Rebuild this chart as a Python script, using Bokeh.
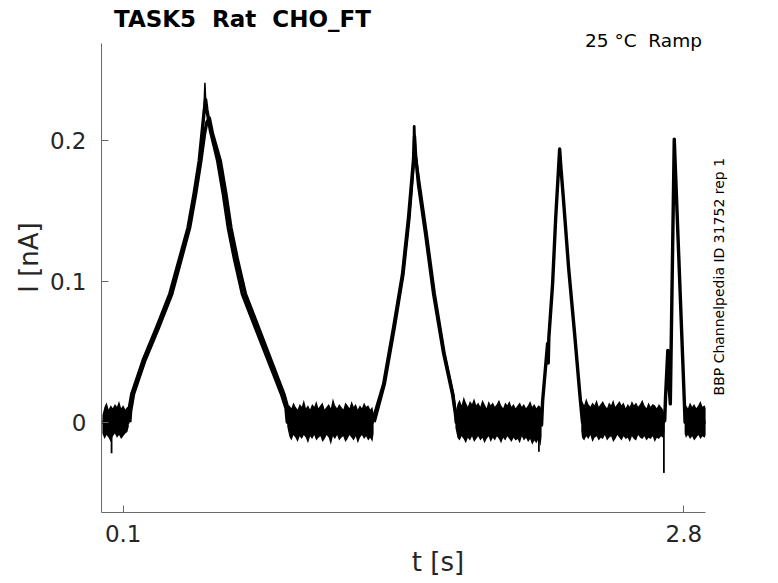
from math import pi
from bokeh.plotting import figure
from bokeh.models import Range1d, FixedTicker, Label
from bokeh.embed import file_html
from bokeh.resources import INLINE

# ---------------- data ----------------
# axis extents (s, nA) and the drawing area around them
X_AXIS = (-0.0045, 2.9045)
Y_AXIS = (-0.0641, 0.2688)
X_VIEW_END = 3.2368
Y_VIEW_END = 0.2980

x_ticks = [0.1, 2.8]
x_tick_labels = ["0.1", "2.8"]
y_ticks = [0.0, 0.1, 0.2]
y_tick_labels = ["0", "0.1", "0.2"]

title_text = "TASK5  Rat  CHO_FT"
condition_text = "25 °C  Ramp"
source_text = "BBP Channelpedia ID 31752 rep 1"
x_label = "t [s]"
y_label = "I [nA]"

# main sweep (time in s, current in nA)
sweep_a_t = [0.000, 0.124, 0.127, 0.141, 0.196, 0.260, 0.324, 0.369, 0.412, 0.441,
             0.466, 0.482, 0.490, 0.497, 0.503, 0.520, 0.555, 0.582, 0.606, 0.637,
             0.674, 0.737, 0.798, 0.862, 0.884, 0.890, 1.300, 1.306, 1.354, 1.402,
             1.445, 1.474, 1.498, 1.503, 1.508, 1.522, 1.556, 1.595, 1.643, 1.686,
             1.700, 1.704, 2.110, 2.115, 2.120, 2.144, 2.147, 2.150, 2.168, 2.183,
             2.197, 2.202, 2.207, 2.221, 2.245, 2.274, 2.298, 2.308, 2.312, 2.700,
             2.708, 2.712, 2.723, 2.727, 2.735, 2.754, 2.803, 2.806, 2.905]
sweep_a_i = [0.000, 0.000, 0.008, 0.020, 0.044, 0.067, 0.091, 0.115, 0.138, 0.162,
             0.1855, 0.209, 0.221, 0.229, 0.222, 0.207, 0.1855, 0.162, 0.138, 0.115,
             0.091, 0.067, 0.044, 0.020, 0.010, 0.000, 0.000, 0.003, 0.027, 0.067,
             0.105, 0.145, 0.186, 0.203, 0.190, 0.169, 0.134, 0.091, 0.049, 0.020,
             0.006, 0.000, 0.000, -0.002, 0.015, 0.056, 0.042, 0.060, 0.098, 0.145,
             0.181, 0.194, 0.183, 0.157, 0.110, 0.063, 0.022, 0.006, 0.000, 0.000,
             0.001, 0.018, 0.051, 0.030, 0.013, 0.201, 0.013, 0.000, 0.000]

# later sweeps on ramp 1
sweep_b1_t = [0.132, 0.136, 0.150, 0.205, 0.270, 0.334, 0.378, 0.420, 0.449, 0.474,
              0.492, 0.503, 0.515, 0.530, 0.568, 0.595, 0.619, 0.651, 0.689, 0.752,
              0.812, 0.874, 0.893, 0.898]
sweep_b1_i = [0.000, 0.008, 0.020, 0.044, 0.067, 0.091, 0.115, 0.138, 0.162, 0.1855,
              0.205, 0.213, 0.216, 0.205, 0.1855, 0.162, 0.138, 0.115, 0.091, 0.067,
              0.044, 0.020, 0.010, 0.000]
# later sweep on ramp 2
sweep_b2_t = [1.310, 1.359, 1.407, 1.449, 1.478, 1.500, 1.5015, 1.505, 1.527, 1.561,
              1.600, 1.647, 1.689, 1.703]
sweep_b2_i = [0.000, 0.027, 0.067, 0.105, 0.145, 0.186, 0.210, 0.192, 0.169, 0.134,
              0.091, 0.049, 0.020, 0.004]
# highest trace at the first peak
peak_c_t = [0.486, 0.4935, 0.500]
peak_c_i = [0.212, 0.241, 0.220]

# single downward spikes
spike_t = [0.044, 2.102, 2.704]
spike_i = [-0.022, -0.021, -0.036]

# baseline noise envelopes (upper / lower) of all sweeps
noise_t1 = [0.000, 0.010, 0.020, 0.030, 0.040, 0.050, 0.060, 0.070, 0.080, 0.090,
            0.100, 0.110, 0.120, 0.127]
noise_up1 = [0.005, 0.011, 0.014, 0.009, 0.012, 0.010, 0.013, 0.011, 0.015, 0.010,
             0.012, 0.009, 0.011, 0.010]
noise_lo1 = [-0.008, -0.012, -0.009, -0.011, -0.014, -0.010, -0.008, -0.011, -0.009, -0.012,
             -0.010, -0.008, -0.007, -0.003]

noise_t2 = [0.89, 0.90, 0.91, 0.92, 0.93, 0.94, 0.95, 0.96, 0.97, 0.98,
            0.99, 1.00, 1.01, 1.02, 1.03, 1.04, 1.05, 1.06, 1.07, 1.08,
            1.09, 1.10, 1.11, 1.12, 1.13, 1.14, 1.15, 1.16, 1.17, 1.18,
            1.19, 1.20, 1.21, 1.22, 1.23, 1.24, 1.25, 1.26, 1.27, 1.28,
            1.29, 1.30, 1.306]
noise_up2 = [0.008, 0.012, 0.010, 0.014, 0.011, 0.009, 0.013, 0.011, 0.016, 0.010,
             0.012, 0.009, 0.013, 0.011, 0.015, 0.010, 0.012, 0.014, 0.009, 0.011,
             0.013, 0.010, 0.017, 0.012, 0.010, 0.013, 0.011, 0.009, 0.014, 0.012,
             0.010, 0.015, 0.011, 0.013, 0.009, 0.012, 0.010, 0.014, 0.011, 0.012,
             0.009, 0.011, 0.006]
noise_lo2 = [-0.003, -0.010, -0.013, -0.009, -0.011, -0.014, -0.010, -0.012, -0.009, -0.011,
             -0.015, -0.010, -0.012, -0.009, -0.013, -0.011, -0.010, -0.014, -0.012, -0.009,
             -0.011, -0.016, -0.010, -0.012, -0.009, -0.013, -0.011, -0.010, -0.014, -0.012,
             -0.009, -0.011, -0.013, -0.010, -0.015, -0.011, -0.009, -0.012, -0.010, -0.013,
             -0.011, -0.014, -0.008]

noise_t3 = [1.70, 1.71, 1.72, 1.73, 1.74, 1.75, 1.76, 1.77, 1.78, 1.79,
            1.80, 1.81, 1.82, 1.83, 1.84, 1.85, 1.86, 1.87, 1.88, 1.89,
            1.90, 1.91, 1.92, 1.93, 1.94, 1.95, 1.96, 1.97, 1.98, 1.99,
            2.00, 2.01, 2.02, 2.03, 2.04, 2.05, 2.06, 2.07, 2.08, 2.09,
            2.10, 2.11, 2.115]
noise_up3 = [0.006, 0.013, 0.016, 0.012, 0.018, 0.014, 0.011, 0.015, 0.013, 0.017,
             0.012, 0.014, 0.011, 0.016, 0.013, 0.010, 0.015, 0.012, 0.014, 0.011,
             0.013, 0.016, 0.012, 0.010, 0.014, 0.012, 0.015, 0.011, 0.013, 0.010,
             0.012, 0.014, 0.011, 0.013, 0.010, 0.012, 0.015, 0.011, 0.013, 0.010,
             0.012, 0.011, 0.008]
noise_lo3 = [-0.004, -0.011, -0.013, -0.010, -0.012, -0.015, -0.011, -0.013, -0.010, -0.014,
             -0.012, -0.010, -0.013, -0.011, -0.015, -0.012, -0.010, -0.014, -0.011, -0.013,
             -0.010, -0.012, -0.015, -0.011, -0.013, -0.010, -0.012, -0.014, -0.011, -0.013,
             -0.012, -0.015, -0.010, -0.013, -0.011, -0.014, -0.012, -0.016, -0.013, -0.015,
             -0.012, -0.017, -0.010]

noise_t4 = [2.306, 2.31, 2.32, 2.33, 2.34, 2.35, 2.36, 2.37, 2.38, 2.39,
            2.40, 2.41, 2.42, 2.43, 2.44, 2.45, 2.46, 2.47, 2.48, 2.49,
            2.50, 2.51, 2.52, 2.53, 2.54, 2.55, 2.56, 2.57, 2.58, 2.59,
            2.60, 2.61, 2.62, 2.63, 2.64, 2.65, 2.66, 2.67, 2.68, 2.69,
            2.70, 2.707]
noise_up4 = [0.010, 0.015, 0.012, 0.017, 0.013, 0.011, 0.014, 0.012, 0.016, 0.011,
             0.013, 0.015, 0.012, 0.010, 0.014, 0.012, 0.016, 0.011, 0.013, 0.015,
             0.012, 0.014, 0.010, 0.013, 0.011, 0.015, 0.012, 0.014, 0.011, 0.013,
             0.016, 0.012, 0.010, 0.014, 0.011, 0.013, 0.012, 0.010, 0.013, 0.011,
             0.009, 0.006]
noise_lo4 = [-0.006, -0.011, -0.013, -0.010, -0.012, -0.009, -0.014, -0.011, -0.010, -0.013,
             -0.011, -0.012, -0.009, -0.013, -0.011, -0.010, -0.014, -0.012, -0.009, -0.011,
             -0.013, -0.010, -0.012, -0.011, -0.014, -0.010, -0.012, -0.013, -0.009, -0.011,
             -0.012, -0.010, -0.013, -0.011, -0.012, -0.010, -0.014, -0.011, -0.012, -0.010,
             -0.011, -0.007]

noise_t5 = [2.804, 2.81, 2.82, 2.83, 2.84, 2.85, 2.86, 2.87, 2.88, 2.89, 2.90, 2.905]
noise_up5 = [0.006, 0.012, 0.010, 0.014, 0.011, 0.013, 0.010, 0.012, 0.015, 0.011, 0.012, 0.010]
noise_lo5 = [-0.008, -0.011, -0.009, -0.012, -0.010, -0.013, -0.011, -0.009, -0.012, -0.010, -0.011, -0.009]

noise_segments = [
    (noise_t1, noise_up1, noise_lo1),
    (noise_t2, noise_up2, noise_lo2),
    (noise_t3, noise_up3, noise_lo3),
    (noise_t4, noise_up4, noise_lo4),
    (noise_t5, noise_up5, noise_lo5),
]

# ---------------- figure ----------------
FONT = "DejaVu Sans"
AXIS_COLOR = "#6a6a6a"
TEXT_COLOR = "#262626"


def keep_spaces(s):
    # SVG collapses repeated spaces; keep the double gaps visible
    return s.replace("  ", " \u00a0")


p = figure(width=776, height=581, output_backend="svg", toolbar_location=None,
           x_range=Range1d(X_AXIS[0], X_VIEW_END), y_range=Range1d(Y_AXIS[0], Y_VIEW_END),
           min_border_left=101, min_border_right=2, min_border_top=2, min_border_bottom=69)
p.outline_line_color = None
p.xgrid.visible = False
p.ygrid.visible = False
p.background_fill_color = "white"
p.border_fill_color = "white"

for ax, ticks, labels, bnds in ((p.xaxis[0], x_ticks, x_tick_labels, X_AXIS),
                                (p.yaxis[0], y_ticks, y_tick_labels, Y_AXIS)):
    ax.ticker = FixedTicker(ticks=ticks)
    ax.major_label_overrides = {t: l for t, l in zip(ticks, labels)}
    ax.bounds = bnds
    ax.axis_line_color = AXIS_COLOR
    ax.major_tick_line_color = AXIS_COLOR
    ax.major_tick_in = 7
    ax.major_tick_out = 0
    ax.minor_tick_line_color = None
    ax.major_label_text_font = FONT
    ax.major_label_text_font_size = "23px"
    ax.major_label_text_color = TEXT_COLOR
    ax.axis_label_text_font = FONT
    ax.axis_label_text_font_size = "26px"
    ax.axis_label_text_font_style = "normal"
    ax.axis_label_text_color = TEXT_COLOR
p.xaxis.major_label_standoff = 12
p.yaxis.major_label_standoff = 15
p.xaxis.axis_label = x_label
p.yaxis.axis_label = y_label
p.xaxis.axis_label_standoff = 2
p.yaxis.axis_label_standoff = 3

# baseline noise bands
for nt, nu, nl in noise_segments:
    p.varea(x=nt, y1=nl, y2=nu, fill_color="black", fill_alpha=1.0)

# sweeps
p.line(sweep_a_t, sweep_a_i, line_color="black", line_width=3.4, line_join="round")
p.line(sweep_b1_t, sweep_b1_i, line_color="black", line_width=3.4, line_join="round")
p.line(sweep_b2_t, sweep_b2_i, line_color="black", line_width=2.8, line_join="round")
p.line(peak_c_t, peak_c_i, line_color="black", line_width=1.5)
p.segment(x0=spike_t, y0=[0.0] * len(spike_t), x1=spike_t, y1=spike_i,
          line_color="black", line_width=1.8)

# texts inside the drawing area
p.add_layout(Label(x=0.0557, y=0.2861, text=keep_spaces(title_text), text_font=FONT,
                   text_font_size="23px", text_font_style="bold", text_color="black",
                   text_align="left", text_baseline="alphabetic"))
p.add_layout(Label(x=2.8872, y=0.2708, text=keep_spaces(condition_text), text_font=FONT,
                   text_font_size="18.5px", text_color="black",
                   text_align="right", text_baseline="alphabetic"))
p.add_layout(Label(x=2.970, y=0.019, text=source_text, text_font=FONT,
                   text_font_size="14px", text_color="black", angle=pi / 2,
                   text_align="left", text_baseline="alphabetic"))

open("out.html", "w").write(file_html(p, INLINE))
